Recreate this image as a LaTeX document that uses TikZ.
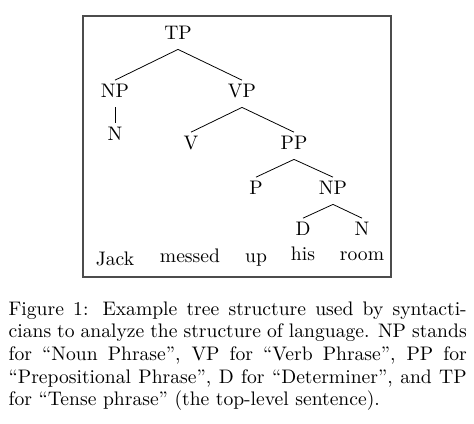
\documentclass[tikz,border=0pt]{standalone}
\begin{document}
\begin{tikzpicture}[x=0.5102pt, y=-0.5102pt,
  cat/.style={anchor=base, inner sep=1.5pt, text height=6.9pt, text depth=3.6pt},
  word/.style={anchor=base, inner sep=0pt},
  branch/.style={draw=black, line width=0.4pt}]

\useasboundingbox (0,0) rectangle (474,423);

\draw [draw=black!70, line width=0.7pt] (83,16) rectangle (391,277);

% categories
\node [cat] (tp) at (178,39) {TP};

\node [cat] (np) at (115,97) {NP};
\node [cat] (vp) at (242,97) {VP};
\node [cat] (n) at (115,140) {N};
\node [cat] (v) at (191,149) {V};
\node [cat] (pp) at (294,149) {PP};
\node [cat] (p) at (256,194) {P};
\node [cat] (npb) at (333,194) {NP};
\node [cat] (d) at (303,235) {D};
\node [cat] (nb) at (362,235) {N};

% words
\node [word] (jack) at (115,265) {Jack};
\node [word] (messed) at (190,262) {messed};
\node [word] (up) at (256,262) {up};
\node [word] (his) at (303,260) {his};
\node [word] (room) at (362,260) {room};

\draw [branch] (tp.south) -- (np.north);
\draw [branch] (tp.south) -- (vp.north);
\draw [branch] (np.south) -- (n.north);
\draw [branch] (vp.south) -- (v.north);
\draw [branch] (vp.south) -- (pp.north);
\draw [branch] (pp.south) -- (p.north);
\draw [branch] (pp.south) -- (npb.north);
\draw [branch] (npb.south) -- (d.north);
\draw [branch] (npb.south) -- (nb.north);

% caption
\node [anchor=north west, inner sep=0pt, text width=233.7pt, align=justify,
font={\fontsize{10}{11.5}\selectfont\tolerance=10000}] (caption)
 at (8.3,301.4) {Figure 1: Example tree structure used by syntacti-\linebreak
cians to analyze the structure of language. NP stands\linebreak
for ``Noun Phrase'', VP for ``Verb Phrase'', PP for\linebreak
``Prepositional Phrase'', D for ``Determiner'', and TP\linebreak
for ``Tense phrase'' (the top-level sentence).};

\end{tikzpicture}
\end{document}
